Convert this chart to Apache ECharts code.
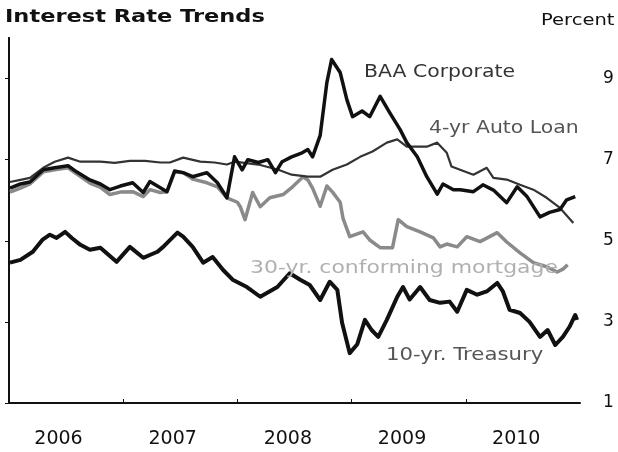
<!DOCTYPE html>
<html lang="en">
<head>
  <meta charset="UTF-8">
  <title>Interest Rate Trends</title>
  <script src="https://cdn.jsdelivr.net/npm/echarts@6/dist/echarts.min.js"></script>
  <style>
    html, body { margin: 0; padding: 0; background: #fff; }
    #chart { width: 618px; height: 452px; }
  </style>
</head>
<body>
  <div id="chart"></div>
  <script>
    // x = months since Jan 2006, y = percent
    var yearLabels = ['2006', '2007', '2008', '2009', '2010'];
    var yTicks = [1, 3, 5, 7, 9];

    var baa = [
      [0.1, 6.30], [1.2, 6.40], [2.2, 6.45], [3.6, 6.75], [4.8, 6.80], [6.2, 6.85],
      [7.1, 6.70], [8.5, 6.50], [9.6, 6.40], [10.6, 6.26], [11.7, 6.35], [13.0, 6.43],
      [14.1, 6.19], [14.8, 6.46], [15.9, 6.31], [16.6, 6.21], [17.4, 6.72], [18.3, 6.68],
      [19.3, 6.58], [20.8, 6.68], [21.9, 6.43], [22.9, 6.06], [23.7, 7.07], [24.5, 6.75],
      [25.1, 7.00], [26.2, 6.93], [27.2, 7.00], [28.0, 6.68], [28.7, 6.95], [29.7, 7.07],
      [30.8, 7.17], [31.4, 7.25], [31.9, 7.07], [32.7, 7.60], [33.4, 8.90], [33.9, 9.47],
      [34.8, 9.15], [35.5, 8.48], [36.1, 8.06], [37.1, 8.20], [37.9, 8.06], [39.0, 8.56],
      [40.0, 8.16], [41.1, 7.74], [41.8, 7.42], [42.9, 7.07], [43.9, 6.58], [45.0, 6.15],
      [45.6, 6.40], [46.7, 6.26], [47.4, 6.26], [48.8, 6.21], [49.8, 6.38], [50.9, 6.25],
      [52.3, 5.94], [53.4, 6.33], [54.4, 6.10], [55.8, 5.59], [56.8, 5.70], [57.9, 5.77],
      [58.6, 6.01], [59.5, 6.09]
    ];

    var autoLoan = [
      [0.1, 6.45], [1.2, 6.50], [2.2, 6.55], [3.6, 6.80], [4.8, 6.95], [6.2, 7.05],
      [7.5, 6.95], [9.6, 6.95], [11.1, 6.92], [12.7, 6.97], [14.3, 6.97], [15.9, 6.93],
      [16.9, 6.93], [18.3, 7.05], [20.1, 6.95], [21.6, 6.93], [22.9, 6.88], [23.7, 6.95],
      [26.2, 6.88], [28.3, 6.75], [29.7, 6.63], [31.4, 6.58], [32.7, 6.58], [34.0, 6.75],
      [35.5, 6.88], [36.9, 7.07], [38.2, 7.20], [39.7, 7.42], [40.8, 7.50], [41.8, 7.32],
      [42.9, 7.32], [43.9, 7.32], [45.0, 7.42], [46.0, 7.17], [46.5, 6.83], [47.4, 6.75],
      [48.8, 6.63], [50.2, 6.80], [50.9, 6.55], [52.3, 6.51], [53.7, 6.38], [55.1, 6.26],
      [56.5, 6.06], [57.9, 5.81], [59.3, 5.44]
    ];

    var mortgage = [
      [0.1, 6.20], [1.2, 6.30], [2.2, 6.40], [3.6, 6.70], [4.8, 6.75], [6.2, 6.80],
      [7.1, 6.65], [8.5, 6.42], [9.6, 6.32], [10.6, 6.14], [11.7, 6.20], [13.0, 6.21],
      [14.1, 6.09], [14.8, 6.26], [15.9, 6.19], [16.6, 6.21], [17.4, 6.70], [18.3, 6.68],
      [19.3, 6.52], [20.8, 6.43], [21.9, 6.33], [22.9, 6.06], [24.0, 5.95], [24.3, 5.84],
      [24.8, 5.52], [25.6, 6.19], [26.4, 5.84], [27.4, 6.06], [28.8, 6.14], [29.8, 6.33],
      [30.9, 6.58], [31.4, 6.50], [31.9, 6.30], [32.7, 5.85], [33.4, 6.35], [34.0, 6.20],
      [34.8, 5.95], [35.1, 5.55], [35.8, 5.10], [37.2, 5.22], [37.9, 5.02], [39.0, 4.83],
      [40.3, 4.83], [40.9, 5.52], [41.8, 5.35], [43.2, 5.22], [44.6, 5.07], [45.3, 4.85],
      [46.0, 4.92], [47.1, 4.85], [48.1, 5.10], [49.5, 4.98], [51.3, 5.20], [52.3, 4.97],
      [53.7, 4.70], [55.1, 4.46], [56.5, 4.36], [57.6, 4.23], [58.2, 4.30], [58.7, 4.41]
    ];

    var treasury = [
      [0.1, 4.46], [1.2, 4.53], [2.5, 4.73], [3.5, 5.02], [4.3, 5.15], [5.0, 5.07],
      [5.9, 5.22], [6.6, 5.07], [7.5, 4.90], [8.5, 4.78], [9.6, 4.83], [11.3, 4.48],
      [12.7, 4.85], [14.1, 4.58], [14.8, 4.65], [15.6, 4.73], [16.2, 4.85], [17.7, 5.20],
      [18.3, 5.10], [19.3, 4.85], [20.4, 4.46], [21.4, 4.60], [22.5, 4.28], [23.5, 4.04],
      [25.0, 3.86], [26.4, 3.62], [28.2, 3.86], [29.5, 4.20], [30.6, 4.04], [31.6, 3.91],
      [32.7, 3.54], [33.7, 3.99], [34.5, 3.79], [35.0, 2.98], [35.8, 2.23], [36.6, 2.45],
      [37.4, 3.05], [38.1, 2.80], [38.8, 2.63], [39.7, 3.05], [40.8, 3.62], [41.4, 3.86],
      [42.1, 3.55], [43.2, 3.86], [44.2, 3.54], [45.3, 3.47], [46.3, 3.50], [47.1, 3.25],
      [48.1, 3.79], [49.2, 3.67], [50.2, 3.75], [51.3, 3.96], [51.9, 3.75], [52.6, 3.30],
      [53.7, 3.22], [54.7, 3.00], [55.8, 2.63], [56.6, 2.80], [57.4, 2.43], [58.2, 2.63],
      [58.9, 2.88], [59.5, 3.17], [59.7, 3.05]
    ];

    var chart = echarts.init(document.getElementById('chart'));
    var font = 'DejaVu Sans';

    function line(name, data, color, width) {
      return {
        name: name,
        type: 'line',
        data: data,
        showSymbol: false,
        lineStyle: { color: color, width: width, join: 'round' },
        animation: false
      };
    }

    // the source lettering is wider than it is tall, so the texts are stretched a little
    function label(text, x, y, size, color, sx, weight) {
      return {
        type: 'text',
        x: x,
        y: y,
        scaleX: sx,
        z: 100,
        style: {
          text: text,
          font: (weight || 'normal') + ' ' + size + 'px "DejaVu Sans"',
          fill: color
        }
      };
    }

    chart.setOption({
      animation: false,
      grid: { left: 9, right: 38, top: 38, bottom: 49 },
      xAxis: {
        type: 'value',
        min: 0,
        max: 60,
        axisLine: { lineStyle: { color: '#111', width: 2 } },
        axisTick: { inside: true, length: 4, customValues: [12, 24, 36, 48], lineStyle: { color: '#111', width: 1 } },
        axisLabel: {
          customValues: [5.2, 17.2, 29.3, 41.3, 53.3],
          formatter: function (v) { return yearLabels[Math.floor(v / 12)]; },
          margin: 27,
          fontFamily: font,
          fontSize: 19,
          color: '#111'
        },
        splitLine: { show: false }
      },
      yAxis: [{
        type: 'value',
        position: 'right',
        min: 1,
        max: 10,
        axisLine: { show: true, lineStyle: { color: '#111', width: 2 } },
        axisTick: { show: true, inside: true, length: 4, customValues: yTicks, lineStyle: { color: '#111' } },
        axisLabel: { customValues: yTicks, margin: 23, fontFamily: font, fontSize: 17, color: '#111' },
        splitLine: { show: false }
      }, {
        type: 'value',
        position: 'left',
        min: 1,
        max: 10,
        axisLine: { show: true, lineStyle: { color: '#111', width: 2 } },
        axisTick: { show: false },
        axisLabel: { show: false },
        splitLine: { show: false }
      }],
      graphic: [
        label('Interest Rate Trends', 5, 8, 18, '#111', 1.25, 'bold'),
        label('Percent', 541, 13, 16, '#111', 1.22),
        label('BAA Corporate', 364, 64, 17, '#333', 1.2),
        label('4-yr Auto Loan', 429, 120, 17, '#555', 1.2),
        label('30-yr. conforming mortgage', 250, 260, 17, '#b0b0b0', 1.29),
        label('10-yr. Treasury', 386, 347, 17, '#555', 1.25)
      ],
      series: [
        line('30-yr. conforming mortgage', mortgage, '#8a8a8a', 3.5),
        line('4-yr Auto Loan', autoLoan, '#333', 2.2),
        line('BAA Corporate', baa, '#111', 3.5),
        line('10-yr. Treasury', treasury, '#111', 4)
      ]
    });
  </script>
</body>
</html>
